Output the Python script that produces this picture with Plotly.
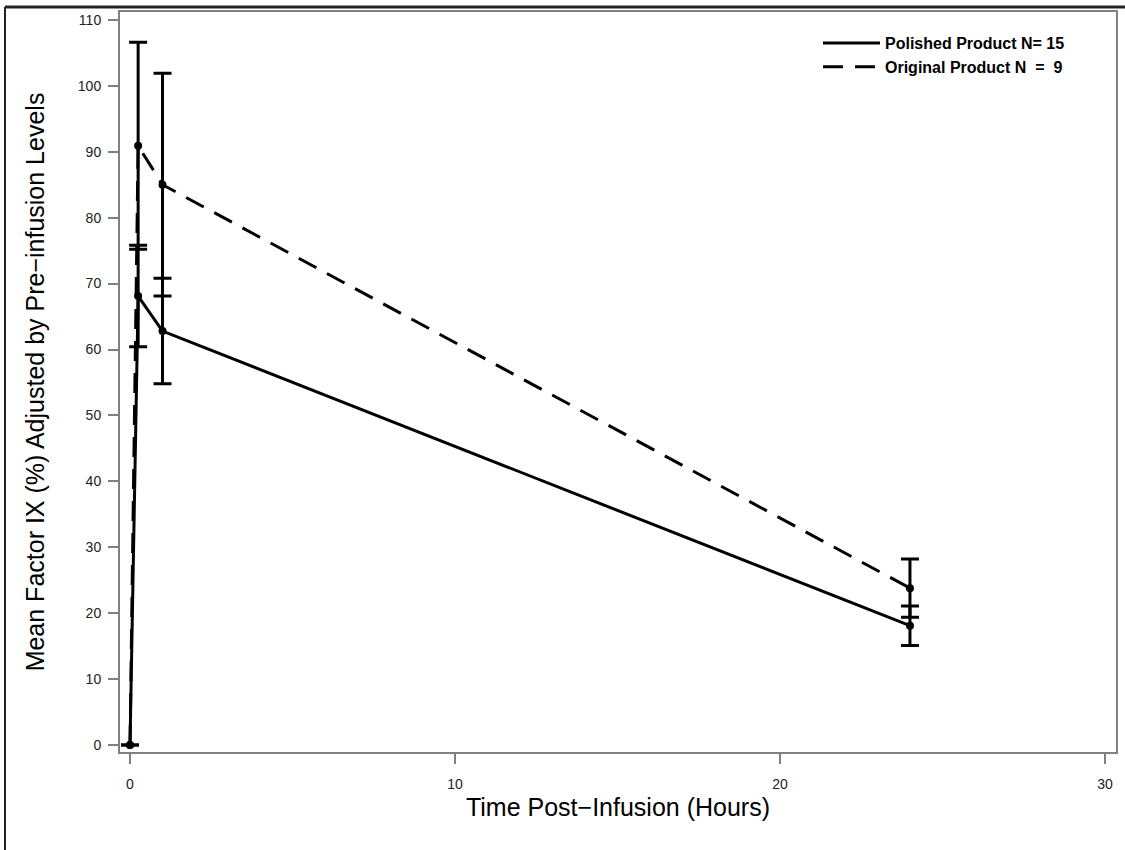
import plotly.graph_objects as go

# ---- data ----
time_h = [0, 0.25, 1, 24]
polished_mean = [0, 68.1, 62.8, 18.1]
polished_sd = [0, 7.7, 8.0, 3.0]
original_mean = [0, 90.9, 85.0, 23.8]
original_sd = [0, 15.7, 16.9, 4.4]

polished_name = "Polished Product N= 15"
original_name = "Original Product N  =  9"

x_ticks = [0, 10, 20, 30]
y_ticks = list(range(0, 111, 10))

W, H = 1125, 850
L, R, T, B = 120, 9, 12, 98
pw, ph = W - L - R, H - T - B

font = "Liberation Sans, Arial, sans-serif"

fig = go.Figure()

# lines (legend entries)
fig.add_trace(go.Scatter(x=time_h, y=polished_mean, mode="lines", name=polished_name,
                         line=dict(color="black", width=3)))
fig.add_trace(go.Scatter(x=time_h, y=original_mean, mode="lines", name=original_name,
                         line=dict(color="black", width=3, dash="20px,12px")))
# markers + error bars
for m, sd in [(polished_mean, polished_sd), (original_mean, original_sd)]:
    fig.add_trace(go.Scatter(x=time_h, y=m, mode="markers", showlegend=False,
                             marker=dict(color="black", size=8),
                             error_y=dict(type="data", array=sd, visible=True,
                                          color="black", thickness=3, width=9)))

axis_common = dict(showline=True, linecolor="#808080", linewidth=2, mirror=True,
                   ticks="outside", ticklen=10, tickwidth=2, tickcolor="#808080",
                   showgrid=False, zeroline=False,
                   tickfont=dict(family=font, size=14, color="#222"))

fig.update_xaxes(range=[-0.308, 30.34], tickvals=x_ticks, ticklabelstandoff=8,
                 title=dict(text="Time Post\u2212Infusion (Hours)", standoff=8,
                            font=dict(family=font, size=25, color="black")),
                 **axis_common)
fig.update_yaxes(range=[-1.06, 111.2], tickvals=y_ticks, ticklabelstandoff=4,
                 title=dict(text="Mean Factor IX (%) Adjusted by Pre\u2212infusion Levels", standoff=26,
                            font=dict(family=font, size=25, color="black")),
                 **axis_common)

# outer border lines (left and top)
def px_x(p):
    return (p - L) / pw

def px_y(p):
    return (H - B - p) / ph

fig.add_shape(type="line", xref="paper", yref="paper", x0=px_x(5), x1=px_x(5),
              y0=px_y(850), y1=px_y(7), line=dict(color="#222", width=2))
fig.add_shape(type="line", xref="paper", yref="paper", x0=px_x(5), x1=px_x(1125),
              y0=px_y(7), y1=px_y(7), line=dict(color="#222", width=3))

fig.update_layout(
    width=W, height=H,
    margin=dict(l=L, r=R, t=T, b=B, autoexpand=False),
    paper_bgcolor="white", plot_bgcolor="white",
    showlegend=True,
    legend=dict(x=px_x(818), y=px_y(26), xanchor="left", yanchor="top",
                bgcolor="rgba(0,0,0,0)", tracegroupgap=0, itemwidth=57,
                font=dict(family=font, size=16, color="black", weight="bold")),
    font=dict(family=font),
)

fig.write_html("out.html", config={"displayModeBar": False},
               post_script="document.body.style.margin='0';")
